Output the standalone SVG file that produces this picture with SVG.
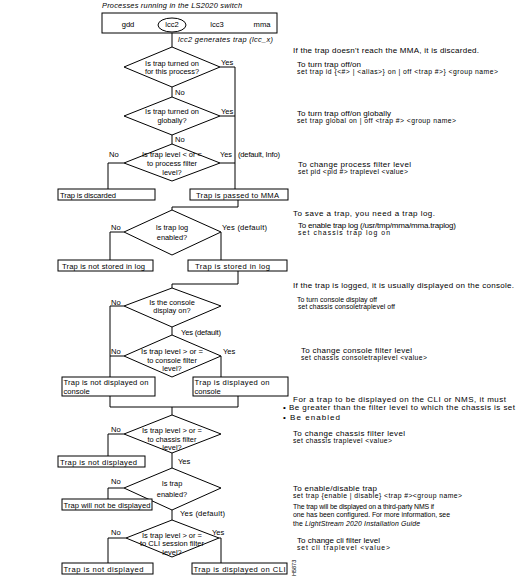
<svg xmlns="http://www.w3.org/2000/svg" width="520" height="582" viewBox="0 0 520 582">
<style>
text { font-family: "Liberation Sans", Arial, Helvetica, sans-serif; fill: #000; }
.t { font-size: 7.6px; }
.m { font-size: 7.4px; text-anchor: middle; }
.i { font-size: 7.4px; font-style: italic; }
.r { font-size: 8px; }
.s { font-size: 6.9px; }
.c { font-size: 6.8px; }
.box { fill: #fff; stroke: #000; stroke-width: 1; }
.dia { fill: #fff; stroke: #000; stroke-width: 1; }
.ln { fill: none; stroke: #000; stroke-width: 1; }
</style>
<rect width="520" height="582" fill="#fff"/>

<g id="connectors">
  <path class="ln" d="M172 32 V47"/>
  <path class="ln" d="M220 67 H235 V189"/>
  <path class="ln" d="M220 116 H235"/>
  <path class="ln" d="M220 163 H235"/>
  <path class="ln" d="M172 87 V97"/>
  <path class="ln" d="M172 135 V144"/>
  <path class="ln" d="M124 163 H108 V189"/>
  <path class="ln" d="M238 200 V207 H172 V210"/>
  <path class="ln" d="M124 232 H110 V260"/>
  <path class="ln" d="M221 232 V260"/>
  <path class="ln" d="M238 271 V284 H172 V288"/>
  <path class="ln" d="M124 306 H110 V377"/>
  <path class="ln" d="M124 356 H110"/>
  <path class="ln" d="M172 327 V335"/>
  <path class="ln" d="M221 356 V377"/>
  <path class="ln" d="M110 396 V407 H238 V396"/>
  <path class="ln" d="M172 407 V415"/>
  <path class="ln" d="M124 434 H108 V456"/>
  <path class="ln" d="M172 453 V468"/>
  <path class="ln" d="M124 488 H108 V499"/>
  <path class="ln" d="M172 510 V520"/>
  <path class="ln" d="M126 538 H108 V563"/>
  <path class="ln" d="M219 538 H221 V563"/>
</g>

<g id="title">
  <text class="i" x="102" y="8" textLength="140" lengthAdjust="spacing">Processes running in the LS2020 switch</text>
</g>

<g id="processes">
  <rect class="box" x="102" y="13" width="175" height="20"/>
  <text class="t" x="128" y="27" text-anchor="middle">gdd</text>
  <ellipse cx="172" cy="25" rx="14" ry="7" fill="none" stroke="#000" stroke-width="1"/>
  <text class="t" x="172" y="27" text-anchor="middle">lcc2</text>
  <text class="t" x="217" y="27" text-anchor="middle">lcc3</text>
  <text class="t" x="262" y="27" text-anchor="middle">mma</text>
  <text class="i" x="178" y="42" textLength="95" lengthAdjust="spacing">lcc2 generates trap (lcc_x)</text>
</g>

<g id="d1">
  <polygon class="dia" points="172,47 220,67 172,87 124,67"/>
  <text class="m" x="172" y="65.5">Is trap turned on</text>
  <text class="m" x="172" y="74">for this process?</text>
  <text class="t" x="221" y="64.5">Yes</text>
  <text class="t" x="175" y="94.5">No</text>
</g>

<g id="d2">
  <polygon class="dia" points="172,97 220,116 172,135 124,116"/>
  <text class="m" x="172" y="114">Is trap turned on</text>
  <text class="m" x="172" y="122.5">globally?</text>
  <text class="t" x="221" y="113.5">Yes</text>
  <text class="t" x="175" y="142">No</text>
</g>

<g id="d3">
  <polygon class="dia" points="172,144 220,163 172,181 124,163"/>
  <text class="m" x="172" y="156.5" textLength="60" lengthAdjust="spacingAndGlyphs">Is trap level &lt; or =</text>
  <text class="m" x="172" y="165.5">to process filter</text>
  <text class="m" x="172" y="175">level?</text>
  <text class="t" x="109" y="157">No</text>
  <text class="t" x="220" y="157" textLength="12" lengthAdjust="spacingAndGlyphs">Yes</text>
  <text class="t" x="238" y="157" textLength="42" lengthAdjust="spacing">(default, Info)</text>
</g>

<g id="b-discarded">
  <rect class="box" x="58" y="189" width="97" height="11"/>
  <text class="t" x="60" y="197.5" textLength="56" lengthAdjust="spacing">Trap is discarded</text>
</g>

<g id="b-mma">
  <rect class="box" x="190" y="189" width="98" height="11"/>
  <text class="t" x="196" y="197.5" textLength="83" lengthAdjust="spacing">Trap is passed to MMA</text>
</g>

<g id="d4">
  <polygon class="dia" points="172,210 221,232 172,255 124,232"/>
  <text class="m" x="172" y="230">Is trap log</text>
  <text class="m" x="172" y="239.5">enabled?</text>
  <text class="t" x="111" y="230">No</text>
  <text class="t" x="222" y="230" textLength="45" lengthAdjust="spacing">Yes (default)</text>
</g>

<g id="b-notlog">
  <rect class="box" x="58" y="260" width="95" height="11"/>
  <text class="t" x="62" y="268.5" textLength="83" lengthAdjust="spacing">Trap is not stored in log</text>
</g>

<g id="b-log">
  <rect class="box" x="188" y="260" width="99" height="11"/>
  <text class="t" x="195" y="268.5" textLength="75" lengthAdjust="spacing">Trap is stored in log</text>
</g>

<g id="d5">
  <polygon class="dia" points="172,288 221,306 172,327 124,306"/>
  <text class="m" x="172" y="304.5">Is the console</text>
  <text class="m" x="172" y="313">display on?</text>
  <text class="t" x="111" y="305">No</text>
  <text class="t" x="181" y="334.5" textLength="40" lengthAdjust="spacing">Yes (default)</text>
</g>

<g id="d6">
  <polygon class="dia" points="172,335 221,356 172,377 124,356"/>
  <text class="m" x="172" y="354" textLength="62" lengthAdjust="spacingAndGlyphs">Is trap level &gt; or =</text>
  <text class="m" x="172" y="362.5">to console filter</text>
  <text class="m" x="172" y="371">level?</text>
  <text class="t" x="111" y="354">No</text>
  <text class="t" x="223" y="354">Yes</text>
</g>

<g id="b-notconsole">
  <rect class="box" x="62" y="377" width="93" height="19"/>
  <text class="t" x="63.5" y="385" textLength="85" lengthAdjust="spacing">Trap is not displayed on</text>
  <text class="t" x="63.5" y="394">console</text>
</g>

<g id="b-console">
  <rect class="box" x="193" y="377" width="95" height="19"/>
  <text class="t" x="194.5" y="385" textLength="75" lengthAdjust="spacing">Trap is displayed on</text>
  <text class="t" x="194.5" y="394">console</text>
</g>

<g id="d7">
  <polygon class="dia" points="172,415 221,434 172,453 124,434"/>
  <text class="m" x="172" y="433" textLength="60" lengthAdjust="spacingAndGlyphs">Is trap level &gt; or =</text>
  <text class="m" x="172" y="441.5">to chassis filter</text>
  <text class="m" x="172" y="449.5">level?</text>
  <text class="t" x="111" y="432">No</text>
  <text class="t" x="178" y="464">Yes</text>
</g>

<g id="b-notdisp1">
  <rect class="box" x="58" y="456" width="87" height="11"/>
  <text class="t" x="60" y="464.5" textLength="77" lengthAdjust="spacing">Trap is not displayed</text>
</g>

<g id="d8">
  <polygon class="dia" points="172,468 221,488 172,510 124,488"/>
  <text class="m" x="172" y="485.5">Is trap</text>
  <text class="m" x="172" y="497">enabled?</text>
  <text class="t" x="111" y="484">No</text>
  <text class="t" x="180" y="515.5" textLength="45" lengthAdjust="spacing">Yes (default)</text>
</g>

<g id="b-willnot">
  <rect class="box" x="62" y="499" width="90" height="11"/>
  <text class="t" x="63.5" y="507.5" textLength="87" lengthAdjust="spacing">Trap will not be displayed</text>
</g>

<g id="d9">
  <polygon class="dia" points="172,520 219,538 172,557 126,538"/>
  <text class="m" x="172" y="538" textLength="60" lengthAdjust="spacingAndGlyphs">Is trap level &gt; or =</text>
  <text class="m" x="172" y="546" textLength="64" lengthAdjust="spacingAndGlyphs">to CLI session filter</text>
  <text class="m" x="172" y="554.5">level?</text>
  <text class="t" x="111" y="535">No</text>
  <text class="t" x="212" y="535">Yes</text>
</g>

<g id="b-notdisp2">
  <rect class="box" x="62" y="563" width="91" height="11"/>
  <text class="t" x="63.5" y="571.5" textLength="80" lengthAdjust="spacing">Trap is not displayed</text>
</g>

<g id="b-cli">
  <rect class="box" x="192" y="563" width="95" height="11"/>
  <text class="t" x="193.5" y="571.5" textLength="92" lengthAdjust="spacing">Trap is displayed on CLI</text>
</g>

<g id="notes">
  <text class="r" x="293" y="52.5" textLength="186" lengthAdjust="spacing">If the trap doesn't reach the MMA, it is discarded.</text>
  <text class="r" x="297" y="66.5" textLength="64" lengthAdjust="spacing">To turn trap off/on</text>
  <text class="c" x="297" y="73.5" textLength="201" lengthAdjust="spacing">set trap id {&lt;#&gt; | &lt;alias&gt;} on | off &lt;trap #&gt;} &lt;group name&gt;</text>
  <text class="r" x="297" y="115.5" textLength="94" lengthAdjust="spacing">To turn trap off/on globally</text>
  <text class="c" x="297" y="122.5" textLength="159" lengthAdjust="spacing">set trap global on | off &lt;trap #&gt; &lt;group name&gt;</text>
  <text class="r" x="298" y="166.5" textLength="113" lengthAdjust="spacing">To change process filter level</text>
  <text class="c" x="298" y="173.5" textLength="110" lengthAdjust="spacing">set pid &lt;pid #&gt; traplevel &lt;value&gt;</text>
  <text class="r" x="293" y="215.5" textLength="142" lengthAdjust="spacing">To save a trap, you need a trap log.</text>
  <text class="r" x="298" y="227.5" textLength="158" lengthAdjust="spacing">To enable trap log (/usr/tmp/mma/mma.traplog)</text>
  <text class="c" x="298" y="234.5" textLength="92" lengthAdjust="spacing">set chassis trap log on</text>
  <text class="r" x="293" y="287.5" textLength="221" lengthAdjust="spacing">If the trap is logged, it is usually displayed on the console.</text>
  <text class="s" x="297" y="302" textLength="80" lengthAdjust="spacing">To turn console display off</text>
  <text class="c" x="298" y="309" font-size="6.2" textLength="97" lengthAdjust="spacing">set chassis consoletraplevel off</text>
  <text class="r" x="301" y="352.5" textLength="111" lengthAdjust="spacing">To change console filter level</text>
  <text class="c" x="301" y="359.5" textLength="126" lengthAdjust="spacing">set chassis consoletraplevel &lt;value&gt;</text>
  <text class="r" x="293" y="402" font-size="7.6" textLength="213" lengthAdjust="spacing">For a trap to be displayed on the CLI or NMS, it must</text>
  <text class="r" x="283" y="410" font-size="7.6" textLength="232" lengthAdjust="spacing">• Be greater than the filter level to which the chassis is set</text>
  <text class="r" x="283" y="419.5" font-size="7.6" textLength="57" lengthAdjust="spacing">• Be enabled</text>
  <text class="r" x="293" y="435.5" textLength="112" lengthAdjust="spacing">To change chassis filter level</text>
  <text class="c" x="293" y="442.5" textLength="99" lengthAdjust="spacing">set chassis traplevel &lt;value&gt;</text>
  <text class="r" x="293" y="490.5" textLength="84" lengthAdjust="spacing">To enable/disable trap</text>
  <text class="c" x="293" y="497.5" textLength="169" lengthAdjust="spacing">set trap {enable | disable} &lt;trap #&gt;&lt;group name&gt;</text>
  <text class="s" x="293" y="508.5" textLength="141" lengthAdjust="spacing">The trap will be displayed on a third-party NMS if</text>
  <text class="s" x="293" y="517" textLength="157" lengthAdjust="spacing">one has been configured. For more information, see</text>
  <text class="s" x="293" y="525.5" textLength="127" lengthAdjust="spacing">the <tspan font-style="italic">LightStream 2020 Installation Guide</tspan></text>
  <text class="r" x="297" y="542.5" textLength="83" lengthAdjust="spacing">To change cli filter level</text>
  <text class="c" x="297" y="549.5" textLength="93" lengthAdjust="spacing">set cli traplevel &lt;value&gt;</text>
</g>

<g id="figure-id">
  <text font-size="5.5" transform="translate(296 576) rotate(-90)">H5873</text>
</g>
</svg>
